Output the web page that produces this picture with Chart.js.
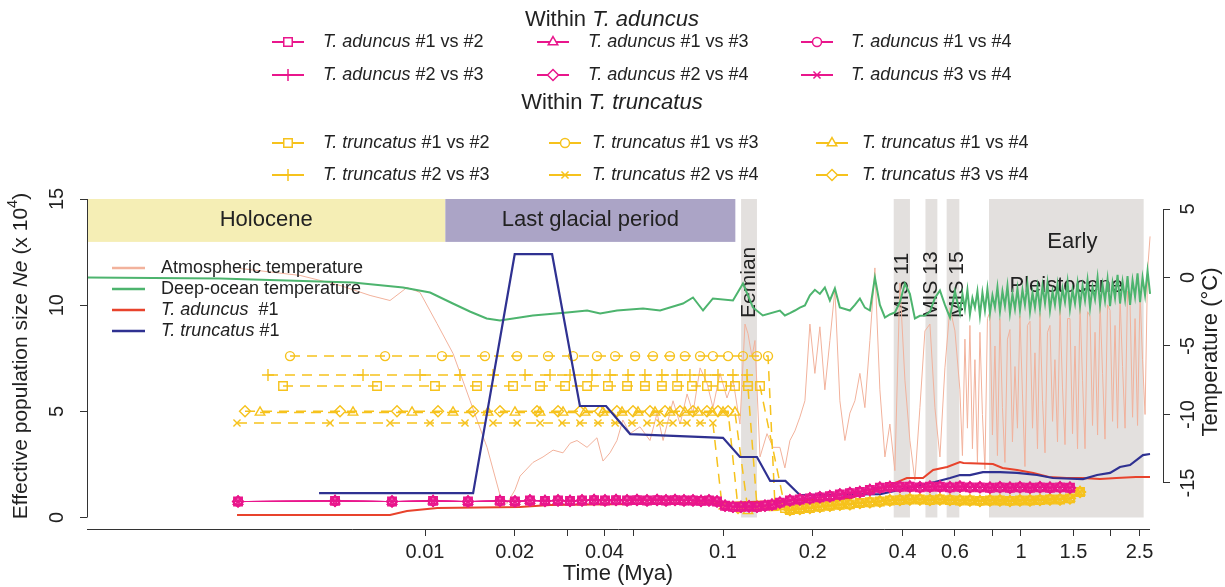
<!DOCTYPE html>
<html>
<head>
<meta charset="utf-8">
<script src="https://cdn.jsdelivr.net/npm/chart.js@4.4.0/dist/chart.umd.min.js"></script>
<style>
  html, body { margin: 0; padding: 0; background: #fff; }
  #wrap { width: 1225px; height: 587px; position: relative; }
</style>
</head>
<body>
<div id="wrap"><canvas id="psmcChart"></canvas></div>
<script>
// ---- values (time in Mya, Ne in 10^4, temperature in degC) ----

const xTickValues = [0.01, 0.02, 0.03, 0.04, 0.05, 0.1, 0.2, 0.4, 0.6, 0.8, 1, 1.5, 2, 2.5];
const xTickText = ['0.01', '0.02', '', '0.04', '', '0.1', '0.2', '0.4', '0.6', '', '1', '1.5', '', '2.5'];
const neTicks = [0, 5, 10, 15];
const tempTicks = [-15, -10, -5, 0, 5];

const periodNames = ['Holocene', 'Last glacial period', 'Eemian', 'MIS 11', 'MIS 13', 'MIS 15', 'Early Pleistocene'];
const periodStart = [0.000734, 0.0117, 0.115, 0.374, 0.478, 0.563, 0.781];
const periodEnd = [0.0117, 0.110, 0.130, 0.424, 0.524, 0.621, 2.58];

// time grids shared by the two climate curves (older part)
const midTimes = [0.1552, 0.1613, 0.1677, 0.1743, 0.1811, 0.1883, 0.1957, 0.2034, 0.2114, 0.2197,
  0.2284, 0.2374, 0.2467, 0.2565, 0.2666, 0.2771, 0.2880, 0.2993, 0.3111, 0.3234,
  0.3361, 0.3494, 0.3631, 0.3774, 0.3923, 0.4078, 0.4238, 0.4405, 0.4579, 0.4760,
  0.4947, 0.5142, 0.5345, 0.5555, 0.5774, 0.6002];
const pleistTimes = [0.6238, 0.6360, 0.6484, 0.6611, 0.6740, 0.6871, 0.7005, 0.7142, 0.7281, 0.7423,
  0.7568, 0.7716, 0.7867, 0.8020, 0.8177, 0.8336, 0.8499, 0.8665, 0.8834, 0.9006,
  0.9182, 0.9361, 0.9544, 0.9730, 0.9920, 1.0114, 1.031, 1.051, 1.072, 1.093,
  1.114, 1.136, 1.158, 1.181, 1.204, 1.227, 1.251, 1.276, 1.300, 1.326,
  1.352, 1.378, 1.405, 1.433, 1.460, 1.489, 1.518, 1.548, 1.578, 1.609,
  1.640, 1.672, 1.705, 1.738, 1.772, 1.807, 1.842, 1.878, 1.914, 1.952,
  1.990, 2.029, 2.068, 2.109, 2.150, 2.192, 2.235, 2.278, 2.323, 2.368,
  2.414, 2.461, 2.509, 2.558, 2.608, 2.659, 2.711];

const airTimesYoung = [0.00239, 0.00381, 0.00519, 0.00654, 0.00763, 0.0087, 0.00962, 0.01097, 0.01242, 0.01416,
  0.01615, 0.01786, 0.01884, 0.02005, 0.02084, 0.02303, 0.02489, 0.0269, 0.02904, 0.03069,
  0.03236, 0.03497, 0.03776, 0.03956, 0.04176, 0.04406, 0.04613, 0.04874, 0.05265, 0.05688,
  0.06009, 0.06295, 0.06796, 0.07178, 0.07575, 0.07931, 0.08375, 0.08834, 0.09252, 0.09772,
  0.1031, 0.1081, 0.114, 0.1185, 0.1213, 0.1251, 0.128, 0.1331, 0.1405, 0.1472];
const airTempYoung = [0.66, 0.15, -0.58, -1.31, -1.68, -0.73, -1.09, -3.36, -5.55, -8.98,
  -12.4, -15.9, -16.5, -15.5, -14.5, -13.5, -13.1, -12.6, -12.8, -12.1,
  -11.9, -12.4, -11.7, -13.4, -12.8, -11.9, -10.4, -11.4, -10.9, -11.9,
  -9.9, -11.9, -9.0, -10.7, -8.5, -9.9, -6.6, -7.7, -9.5, -7.0,
  -8.8, -7.5, -10.7, -3.4, -4.1, -5.8, -4.6, -13.1, -11.4, -12.4];
const airTempMid = [-12.4, -13.9, -11.9, -11.2, -10.2, -9.0, -3.4, -7.0, -3.6, -8.2,
  -4.6, -0.9, -9.0, -11.9, -9.9, -9.0, -7.0, -9.5, -4.6, 0.7,
  -8.2, -13.1, -10.7, -14.1, -0.4, -7.5, -11.9, -14.8, -9.5, -3.9,
  -3.4, -9.5, -13.1, -6.6, -2.2, -3.9];
const airTempPleist = [-8.2, -13.0, -4.5, -11.0, -3.5, -12.5, -6.0, -13.5, -4.0, -10.0,
  -14.0, -3.0, -2.5, -11.5, -5.0, -13.0, -3.0, -9.5, -13.5, -4.5,
  -3.8, -12.0, -6.5, -11.0, -2.8, -8.5, -13.8, -3.5, -3.2, -11.0,
  -5.5, -12.5, -2.6, -9.0, -12.8, -4.0, -3.5, -10.5, -6.0, -12.0,
  -2.2, -8.0, -12.2, -3.0, -3.0, -11.4, -5.0, -12.5, -2.0, -7.5,
  -12.5, -2.5, -2.8, -10.8, -4.0, -11.5, -1.8, -7.0, -11.8, -2.0,
  -2.4, -10.5, -3.5, -11.0, -1.5, -6.5, -11.0, -1.0, -2.0, -10.2,
  -3.0, -10.8, -1.2, -6.0, -10.0, 0.5, 3.0];

const oceanTimesYoung = [0.000734, 0.00205, 0.00573, 0.00844, 0.0104, 0.0124, 0.0142, 0.0161, 0.01785, 0.0208,
  0.0230, 0.0300, 0.0350, 0.0387, 0.0441, 0.0539, 0.0615, 0.0734, 0.0793, 0.0857,
  0.0925, 0.108, 0.1167, 0.126, 0.136];
const oceanTempYoung = [0, -0.07, -0.36, -0.73, -1.1, -1.9, -2.5, -2.99, -3.14, -2.92,
  -2.77, -2.55, -2.41, -2.63, -2.41, -2.26, -2.41, -1.9, -1.46, -2.41,
  -1.53, -1.68, -0.44, -2.19, -2.77];
const oceanTempMid = [-2.41, -2.77, -2.6, -2.41, -2.2, -2.04, -1.3, -0.9, -1.2, -0.73,
  -1.68, -0.8, -2.19, -2.3, -2.41, -2.0, -1.53, -2.2, -2.41, 0.0,
  -2.0, -2.92, -2.7, -2.55, -1.8, -0.44, -1.2, -2.99, -2.8, -2.77,
  -2.5, -1.5, -0.95, -2.0, -2.92, -1.0];
const oceanTempPleist = [-2.6, -1.2, -2.3, -0.9, -2.7, -1.5, -2.2, -1.0, -2.8, -1.1,
  -2.4, -0.8, -2.6, -1.3, -2.2, -0.7, -2.5, -1.0, -2.1, -0.6,
  -2.6, -1.2, -2.3, -0.8, -2.4, -0.9, -2.0, -0.5, -2.5, -1.1,
  -2.2, -0.7, -2.3, -0.6, -1.9, -0.4, -2.4, -1.0, -2.0, -0.5,
  -2.2, -0.8, -1.8, -0.3, -2.3, -0.9, -1.9, -0.4, -2.1, -0.6,
  -1.7, -0.2, -2.2, -0.7, -1.6, 0.0, -2.0, -0.5, -1.7, -0.1,
  -2.1, -0.4, -1.5, 0.2, -1.9, -0.3, -1.6, 0.1, -2.0, -0.2,
  -1.4, 0.3, -1.8, 0.0, -1.3, 0.5, -1.2];

const aduncusTimes = [0.00234, 0.00763, 0.0087, 0.011, 0.0208, 0.0263, 0.0977, 0.267, 0.36, 0.40,
  0.414, 0.469, 0.507, 0.565, 0.624, 0.641, 0.805, 0.867, 0.97, 1.10,
  1.24, 1.42, 1.61, 1.84, 2.09, 2.43, 2.71];
const aduncusNe = [0.12, 0.12, 0.31, 0.45, 0.49, 0.59, 0.68, 0.9, 1.5, 1.77,
  1.86, 1.86, 2.24, 2.38, 2.61, 2.57, 2.52, 2.33, 2.24, 2.10,
  1.91, 1.86, 1.86, 1.81, 1.86, 1.91, 1.91];

const truncatusTimes = [0.00441, 0.0145, 0.0200, 0.0267, 0.0331, 0.0405, 0.0488, 0.100, 0.114, 0.130,
  0.144, 0.162, 0.181, 0.337, 0.514, 0.578, 0.624, 0.674, 0.745, 0.851,
  0.970, 1.132, 1.280, 1.614, 1.80, 1.99, 2.148, 2.322, 2.566, 2.71];
const truncatusNe = [1.15, 1.15, 12.4, 12.4, 5.25, 5.25, 3.93, 3.75, 2.85, 2.85,
  1.72, 1.72, 1.06, 1.1, 1.67, 1.86, 2.0, 2.0, 2.14, 2.14,
  2.1, 2.0, 1.86, 1.81, 2.0, 2.1, 2.38, 2.47, 2.94, 2.99];

// pairwise PSMC within T. aduncus (the six pairs lie on top of each other)
const aduncusPairTimes = [0.002358, 0.004989, 0.00775, 0.01064, 0.01394,
  0.01785, 0.02004, 0.0225, 0.02527, 0.02795, 0.03066, 0.03364, 0.03692, 0.04018, 0.04375,
  0.04764, 0.05145, 0.05559, 0.06009, 0.06438, 0.06902, 0.07398, 0.07931, 0.08437, 0.08974,
  0.09548, 0.1016, 0.108, 0.1149, 0.1223, 0.130, 0.1383, 0.146,
  0.1552, 0.1677, 0.1811, 0.1957, 0.2114, 0.2284, 0.2467, 0.2666, 0.288, 0.3111,
  0.3361, 0.3631, 0.3923, 0.4238, 0.4579, 0.4947, 0.5345, 0.5774, 0.6238, 0.674,
  0.7281, 0.7867, 0.8499, 0.9182, 0.992, 1.072, 1.158, 1.251, 1.352, 1.46];
const aduncusPairNe = [0.75, 0.78, 0.75, 0.78, 0.75,
  0.78, 0.75, 0.8, 0.78, 0.8, 0.78, 0.8, 0.82, 0.8, 0.82,
  0.8, 0.82, 0.8, 0.82, 0.8, 0.82, 0.8, 0.8, 0.78, 0.8,
  0.75, 0.55, 0.5, 0.5, 0.52, 0.5, 0.55, 0.6,
  0.7, 0.8, 0.85, 0.9, 0.95, 1.0, 1.08, 1.15, 1.2, 1.3,
  1.4, 1.44, 1.45, 1.45, 1.42, 1.45, 1.45, 1.42, 1.45, 1.42,
  1.42, 1.4, 1.42, 1.4, 1.42, 1.4, 1.42, 1.4, 1.42, 1.4];

// pairwise PSMC within T. truncatus: flat plateau, then a drop to the low band
const tt12Times = [0.003338, 0.006902, 0.0108, 0.01494, 0.01974, 0.02432, 0.02951, 0.03499, 0.04111, 0.04764,
  0.0547, 0.06237, 0.07015, 0.0787, 0.08835, 0.0993, 0.1097, 0.1213, 0.1331];
const tt13Times = [0.003524, 0.007345, 0.0114, 0.01589, 0.02037, 0.02588, 0.0314, 0.03776, 0.04345, 0.0507,
  0.05821, 0.06637, 0.07447, 0.08375, 0.0925, 0.104, 0.1167, 0.130, 0.1416];
const tt14Times = [0.002795, 0.005733, 0.009045, 0.012417, 0.01627, 0.02004, 0.02432, 0.02905, 0.03443, 0.03956,
  0.04582, 0.05185, 0.05913, 0.06637, 0.07447, 0.08244, 0.0919, 0.1, 0.1097];
const tt23Times = [0.002972, 0.006194, 0.009621, 0.0131, 0.01691, 0.02166, 0.02627, 0.03066, 0.03634, 0.04177,
  0.048, 0.0547, 0.06237, 0.07015, 0.07745, 0.087, 0.0962, 0.108, 0.1204];
const tt24Times = [0.002339, 0.0048, 0.00763, 0.010394, 0.01362, 0.01691, 0.02037, 0.02432, 0.02883, 0.0331,
  0.03806, 0.04345, 0.0495, 0.05559, 0.06146, 0.06796, 0.0757, 0.08375, 0.0925];
const tt34Times = [0.002489, 0.005185, 0.008054, 0.011056, 0.01449, 0.01785, 0.02376, 0.02795, 0.0331, 0.03866,
  0.04406, 0.04989, 0.05689, 0.06389, 0.07173, 0.07931, 0.08835, 0.0962, 0.104];
// order: #1v2, #1v3, #1v4, #2v3, #2v4, #3v4
const truncPlateauNe = [6.19, 7.6, 4.95, 6.71, 4.45, 5.0];
const truncDropTimes = [0.1615, 0.1494, 0.1213, 0.130, 0.0993, 0.1123];
const truncDropNe = [0.45, 0.59, 0.31, 0.54, 0.54, 0.45];
const truncLowTimes = [0.1677, 0.1811, 0.1957, 0.2114, 0.2284, 0.2467, 0.2666, 0.288, 0.3111, 0.3361,
  0.3631, 0.3923, 0.4238, 0.4579, 0.4947, 0.5345, 0.5774, 0.6238, 0.674, 0.7281,
  0.7867, 0.8499, 0.9182, 0.992, 1.072, 1.158, 1.251, 1.352, 1.46, 1.578];
const truncLowNe = [0.35, 0.4, 0.45, 0.5, 0.55, 0.6, 0.62, 0.68, 0.72, 0.75,
  0.8, 0.82, 0.85, 0.85, 0.82, 0.85, 0.82, 0.8, 0.8, 0.78,
  0.8, 0.8, 0.78, 0.8, 0.8, 0.82, 0.85, 0.85, 0.9, 1.2];

const pairLabels = ['#1 vs #2', '#1 vs #3', '#1 vs #4', '#2 vs #3', '#2 vs #4', '#3 vs #4'];

// ---- styling ----
const FONT = '"Liberation Sans", Arial, Helvetica, sans-serif';
const PINK = '#e9168c';
const GOLD = '#f6c21c';
const SALMON = '#f2b29c';
const GREEN = '#4db46e';
const RED = '#e8432c';
const BLUE = '#2f3191';
const pinkStyles = ['rect', 'triangle', 'circle', 'cross', 'rectRot', 'crossRot'];
const goldStyles = ['rect', 'circle', 'triangle', 'cross', 'crossRot', 'rectRot'];
const markerRadius = { rect: 6, triangle: 5.5, circle: 4.5, cross: 6, rectRot: 5.5, crossRot: 5 };

function zip(ts, vs) {
  return ts.map((t, i) => ({ x: t, y: vs[i] }));
}
function font(size, italic) {
  return (italic ? 'italic ' : '') + size + 'px ' + FONT;
}

const ttTimes = [tt12Times, tt13Times, tt14Times, tt23Times, tt24Times, tt34Times];

const datasets = [
  { label: 'Atmospheric temperature',
    data: zip([...airTimesYoung, ...midTimes, ...pleistTimes], [...airTempYoung, ...airTempMid, ...airTempPleist]),
    yAxisID: 'yTemp', borderColor: SALMON, borderWidth: 1, pointRadius: 0, order: 60 },
  { label: 'Deep-ocean temperature',
    data: zip([...oceanTimesYoung, ...midTimes, ...pleistTimes], [...oceanTempYoung, ...oceanTempMid, ...oceanTempPleist]),
    yAxisID: 'yTemp', borderColor: GREEN, borderWidth: 2, pointRadius: 0, order: 50 },
  { label: 'T. aduncus #1', data: zip(aduncusTimes, aduncusNe),
    yAxisID: 'yNe', borderColor: RED, borderWidth: 2, pointRadius: 0, order: 40 },
  { label: 'T. truncatus #1', data: zip(truncatusTimes, truncatusNe),
    yAxisID: 'yNe', borderColor: BLUE, borderWidth: 2.2, pointRadius: 0, order: 20 }
];

pairLabels.forEach((lab, i) => {
  const plateau = ttTimes[i].map(t => ({ x: t, y: truncPlateauNe[i] }));
  datasets.push({
    label: 'T. truncatus ' + lab,
    data: [...plateau, { x: truncDropTimes[i], y: truncDropNe[i] }, ...zip(truncLowTimes, truncLowNe)],
    yAxisID: 'yNe', borderColor: GOLD, borderWidth: 1.5, borderDash: [10, 7],
    pointStyle: goldStyles[i], pointRadius: markerRadius[goldStyles[i]], pointBorderWidth: 1.4,
    pointBorderColor: GOLD, pointBackgroundColor: 'rgba(0,0,0,0)', order: 30
  });
});
pairLabels.forEach((lab, i) => {
  datasets.push({
    label: 'T. aduncus ' + lab,
    data: zip(aduncusPairTimes, aduncusPairNe),
    yAxisID: 'yNe', borderColor: PINK, borderWidth: 1,
    pointStyle: pinkStyles[i], pointRadius: markerRadius[pinkStyles[i]], pointBorderWidth: 1.4,
    pointBorderColor: PINK, pointBackgroundColor: 'rgba(0,0,0,0)', order: 10
  });
});

function drawMarker(ctx, style, x, y, color) {
  ctx.save();
  ctx.strokeStyle = color;
  ctx.fillStyle = '#fff';
  ctx.lineWidth = 1.5;
  Chart.helpers.drawPoint(ctx, { pointStyle: style, radius: markerRadius[style], borderWidth: 1.5, rotation: 0 }, x, y);
  ctx.restore();
}

// mixed italic / upright text; parts = [text, italic, superscript]
function richText(ctx, parts, x, y, size, align) {
  let w = 0;
  parts.forEach(p => { ctx.font = font(p[2] ? size * 0.7 : size, p[1]); w += ctx.measureText(p[0]).width; });
  let cx = align === 'center' ? x - w / 2 : x;
  ctx.textAlign = 'left';
  parts.forEach(p => {
    ctx.font = font(p[2] ? size * 0.7 : size, p[1]);
    ctx.fillText(p[0], cx, p[2] ? y - size * 0.4 : y);
    cx += ctx.measureText(p[0]).width;
  });
}

const figureDecor = {
  id: 'figureDecor',
  beforeDatasetsDraw(chart) {
    const ctx = chart.ctx;
    const xs = chart.scales.x, ys = chart.scales.yNe;
    const colors = ['#f5eeb5', '#aba4c6', '#e3e0de', '#e3e0de', '#e3e0de', '#e3e0de', '#e3e0de'];
    const floors = [12.98, 12.98, 0, 0, 0, 0, 0];
    ctx.save();
    const top = ys.getPixelForValue(15);
    const centers = [];
    for (let i = 0; i < periodNames.length; i++) {
      const x0 = xs.getPixelForValue(periodStart[i]);
      const x1 = xs.getPixelForValue(periodEnd[i]);
      ctx.fillStyle = colors[i];
      ctx.fillRect(x0, top, x1 - x0, ys.getPixelForValue(floors[i]) - top);
      centers.push((x0 + x1) / 2);
    }
    ctx.fillStyle = '#222';
    ctx.textBaseline = 'middle';
    ctx.textAlign = 'center';
    ctx.font = font(22);
    ctx.fillText(periodNames[0], centers[0], ys.getPixelForValue(14));
    ctx.fillText(periodNames[1], centers[1], ys.getPixelForValue(14));
    ctx.fillText('Early', centers[6] + 6, ys.getPixelForValue(13.0));
    ctx.fillText('Pleistocene', centers[6], ys.getPixelForValue(10.9));
    ctx.font = font(21);
    ctx.textAlign = 'left';
    for (let i = 2; i <= 5; i++) {
      ctx.save();
      ctx.translate(centers[i] + (i === 5 ? 4 : 0), ys.getPixelForValue(9.4));
      ctx.rotate(-Math.PI / 2);
      ctx.fillText(periodNames[i], 0, 0);
      ctx.restore();
    }
    ctx.restore();
  },
  afterDraw(chart) {
    const ctx = chart.ctx;
    const area = chart.chartArea;
    const xs = chart.scales.x, ys = chart.scales.yNe, yt = chart.scales.yTemp;
    ctx.save();
    // axis lines
    ctx.strokeStyle = '#333';
    ctx.lineWidth = 1;
    ctx.beginPath();
    ctx.moveTo(area.left, area.bottom + 0.5);
    ctx.lineTo(xs.getPixelForValue(2.71), area.bottom + 0.5);
    ctx.moveTo(area.left + 0.5, ys.getPixelForValue(0));
    ctx.lineTo(area.left + 0.5, ys.getPixelForValue(15));
    ctx.moveTo(area.right + 0.5, yt.getPixelForValue(5));
    ctx.lineTo(area.right + 0.5, yt.getPixelForValue(-15));
    ctx.stroke();

    // y tick labels, turned like the original
    ctx.fillStyle = '#222';
    ctx.font = font(20);
    ctx.textAlign = 'center';
    ctx.textBaseline = 'middle';
    neTicks.forEach(v => {
      ctx.save();
      ctx.translate(area.left - 30, ys.getPixelForValue(v));
      ctx.rotate(-Math.PI / 2);
      ctx.fillText(String(v), 0, 0);
      ctx.restore();
    });
    tempTicks.forEach(v => {
      ctx.save();
      ctx.translate(area.right + 25, yt.getPixelForValue(v));
      ctx.rotate(-Math.PI / 2);
      ctx.fillText(String(v), 0, 0);
      ctx.restore();
    });

    // axis titles
    ctx.save();
    ctx.translate(21, 356);
    ctx.rotate(-Math.PI / 2);
    richText(ctx, [['Effective population size ', false], ['Ne', true], [' (x 10', false], ['4', false, true], [')', false]], 0, 0, 21, 'center');
    ctx.restore();
    ctx.save();
    ctx.translate(1211, 352);
    ctx.rotate(-Math.PI / 2);
    ctx.font = font(22);
    ctx.textAlign = 'center';
    ctx.fillText('Temperature (\u00b0C)', 0, 0);
    ctx.restore();
    ctx.font = font(22);
    ctx.textAlign = 'center';
    ctx.fillText('Time (Mya)', 618, 574);

    // legend for the curves
    const curveRows = [268, 289, 310, 331];
    const curveColors = [SALMON, GREEN, RED, BLUE];
    const curveText = [
      [['Atmospheric temperature', false]],
      [['Deep-ocean temperature', false]],
      [['T. aduncus', true], ['  #1', false]],
      [['T. truncatus', true], [' #1', false]]
    ];
    curveRows.forEach((y, i) => {
      ctx.strokeStyle = curveColors[i];
      ctx.lineWidth = 2.5;
      ctx.beginPath();
      ctx.moveTo(112, y);
      ctx.lineTo(145, y);
      ctx.stroke();
      ctx.fillStyle = '#222';
      richText(ctx, curveText[i], 161, y, 18, 'left');
    });

    // legend for the pairwise comparisons
    ctx.fillStyle = '#222';
    richText(ctx, [['Within ', false], ['T. aduncus', true]], 612, 20, 22, 'center');
    richText(ctx, [['Within ', false], ['T. truncatus', true]], 612, 103, 22, 'center');
    const groups = [
      { name: 'T. aduncus', color: PINK, styles: pinkStyles, rows: [42, 75], mx: [288, 553, 817], tx: [323, 588, 851] },
      { name: 'T. truncatus', color: GOLD, styles: goldStyles, rows: [143, 175], mx: [288, 565, 832], tx: [323, 592, 862] }
    ];
    groups.forEach(g => {
      pairLabels.forEach((lab, i) => {
        const row = g.rows[Math.floor(i / 3)];
        const col = i % 3;
        ctx.strokeStyle = g.color;
        ctx.lineWidth = 2;
        ctx.beginPath();
        ctx.moveTo(g.mx[col] - 16, row);
        ctx.lineTo(g.mx[col] + 16, row);
        ctx.stroke();
        drawMarker(ctx, g.styles[i], g.mx[col], row, g.color);
        ctx.fillStyle = '#222';
        richText(ctx, [[g.name, true], [' ' + lab, false]], g.tx[col], row, 18, 'left');
      });
    });
    ctx.restore();
  }
};

const ctx = document.getElementById('psmcChart').getContext('2d');
Chart.defaults.font.family = FONT;
Chart.defaults.color = '#222';

const psmcChart = new Chart(ctx, {
  type: 'line',
  data: { datasets: datasets },
  options: {
    responsive: true,
    maintainAspectRatio: false,
    animation: false,
    devicePixelRatio: 1,
    events: [],
    layout: { padding: { top: 199, left: 0, right: 0, bottom: 0 } },
    elements: { line: { tension: 0 } },
    plugins: { legend: { display: false }, tooltip: { enabled: false }, title: { display: false } },
    scales: {
      x: {
        type: 'logarithmic',
        min: 0.000734,
        max: 2.996,
        afterBuildTicks: s => { s.ticks = xTickValues.map(v => ({ value: v })); },
        afterFit: s => { s.height = 58; },
        ticks: {
          autoSkip: false, maxRotation: 0, minRotation: 0, padding: 4,
          font: { size: 20 }, color: '#222',
          callback: (v, i) => xTickText[i]
        },
        grid: { drawOnChartArea: false, drawTicks: true, tickLength: 7, color: '#333' },
        border: { display: false }
      },
      yNe: {
        type: 'linear',
        position: 'left',
        min: -0.542,
        max: 15.0,
        afterBuildTicks: s => { s.ticks = neTicks.map(v => ({ value: v })); },
        afterFit: s => { s.width = 87; },
        ticks: { display: false },
        grid: { drawOnChartArea: false, drawTicks: true, tickLength: 7, color: '#333' },
        border: { display: false }
      },
      yTemp: {
        type: 'linear',
        position: 'right',
        min: -18.36,
        max: 5.73,
        afterBuildTicks: s => { s.ticks = tempTicks.map(v => ({ value: v })); },
        afterFit: s => { s.width = 62; },
        ticks: { display: false },
        grid: { drawOnChartArea: false, drawTicks: true, tickLength: 7, color: '#333' },
        border: { display: false }
      }
    }
  },
  plugins: [figureDecor]
});
</script>
</body>
</html>
